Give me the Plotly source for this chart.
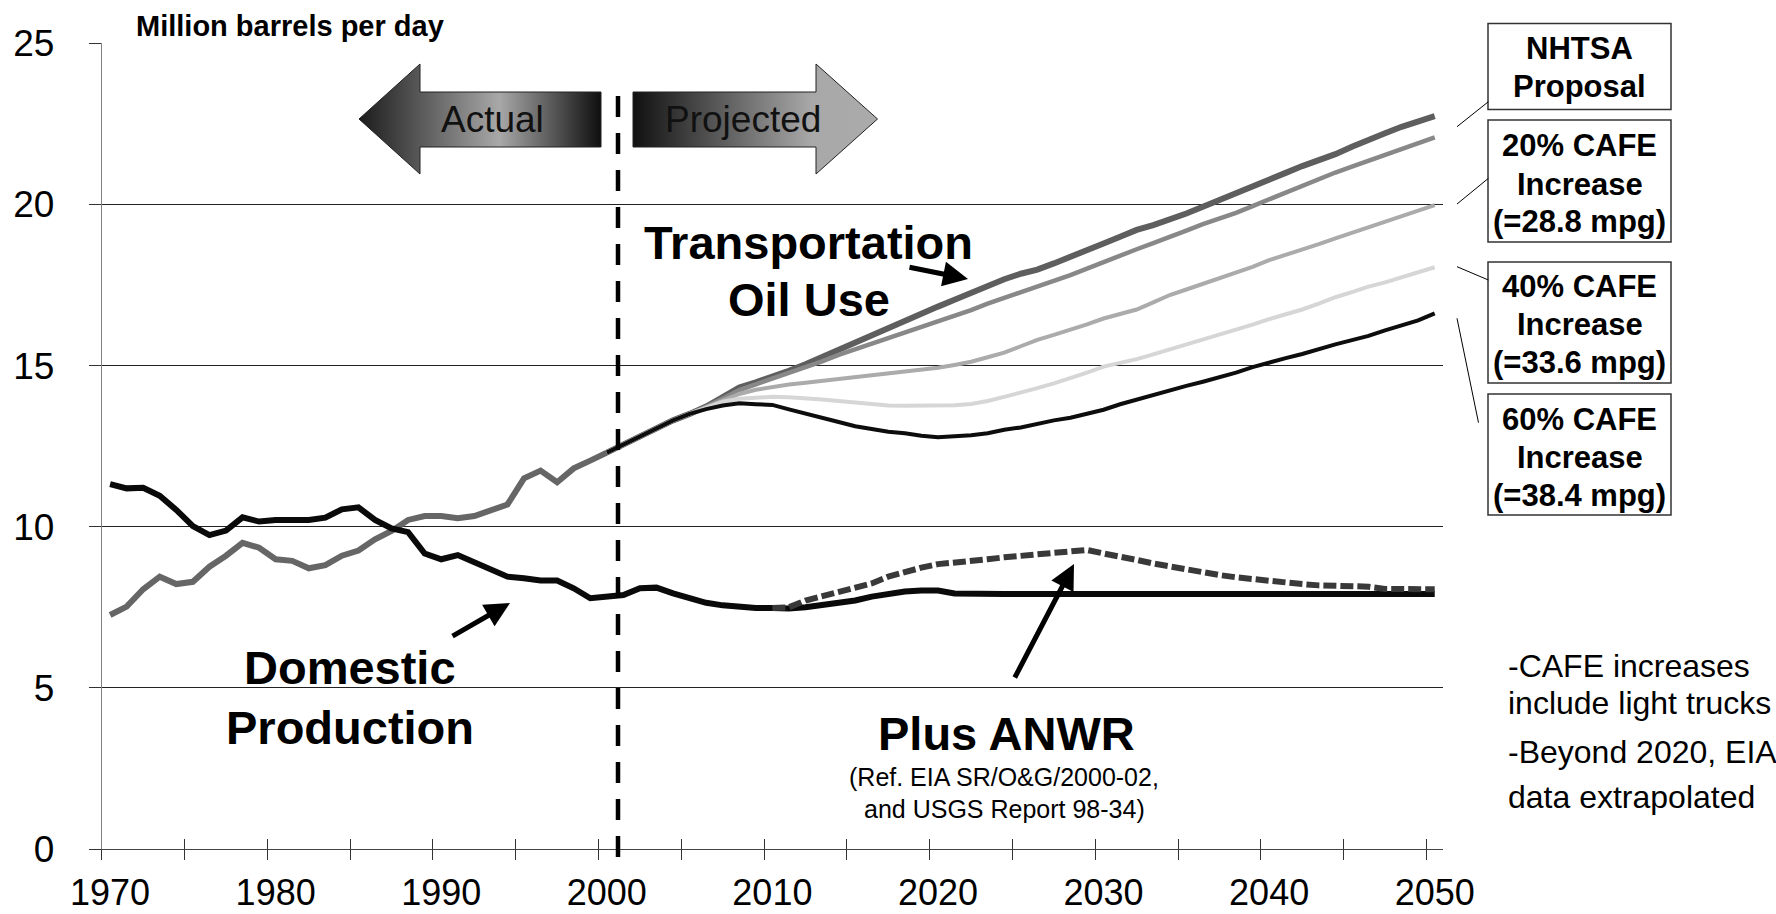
import plotly.graph_objects as go

# ---------------- data ----------------
years_hist = list(range(1970, 2001))
transport_hist = [7.26, 7.52, 8.06, 8.45, 8.22, 8.29, 8.76, 9.10, 9.50, 9.35,
                  8.99, 8.94, 8.71, 8.81, 9.10, 9.26, 9.61, 9.87, 10.21, 10.33,
                  10.33, 10.26, 10.33, 10.49, 10.69, 11.50, 11.74, 11.38, 11.81, 12.05,
                  12.30]

years_all = list(range(1970, 2051))
domestic_production = [11.32, 11.19, 11.21, 10.96, 10.52, 10.02, 9.74, 9.88, 10.29, 10.16,
                       10.21, 10.21, 10.21, 10.28, 10.54, 10.60, 10.21, 9.95, 9.83, 9.17,
                       8.99, 9.12, 8.90, 8.64, 8.45, 8.40, 8.33, 8.33, 8.09, 7.78,
                       7.83, 7.88, 8.09, 8.11, 7.93, 7.77, 7.64, 7.56, 7.50, 7.48,
                       7.48, 7.46, 7.50, 7.57, 7.64, 7.71, 7.83, 7.91, 7.99, 8.02,
                       8.02, 7.93, 7.91, 7.91, 7.91, 7.91, 7.91, 7.91, 7.91, 7.91,
                       7.91, 7.91, 7.91, 7.91, 7.91, 7.91, 7.91, 7.91, 7.91, 7.91,
                       7.91, 7.91, 7.91, 7.91, 7.91, 7.91, 7.91, 7.91, 7.91, 7.91,
                       7.91]

years_proj = list(range(2000, 2051))
transport_base = [12.30, 12.55, 12.82, 13.05, 13.30, 13.50, 13.73, 14.02, 14.32, 14.48,
                  14.64, 14.84, 15.04, 15.27, 15.50, 15.73, 15.95, 16.18, 16.41, 16.62,
                  16.83, 17.04, 17.26, 17.47, 17.68, 17.85, 17.98, 18.17, 18.36, 18.58,
                  18.79, 19.00, 19.21, 19.36, 19.52, 19.72, 19.93, 20.15, 20.36, 20.57,
                  20.78, 20.98, 21.19, 21.37, 21.56, 21.79, 22.02, 22.21, 22.41, 22.57,
                  22.74]
nhtsa_proposal = [12.30, 12.55, 12.82, 13.05, 13.30, 13.50, 13.72, 13.98, 14.24, 14.42,
                  14.60, 14.76, 14.93, 15.13, 15.33, 15.50, 15.67, 15.85, 16.03, 16.20,
                  16.36, 16.54, 16.72, 16.92, 17.10, 17.27, 17.43, 17.62, 17.81, 18.01,
                  18.22, 18.42, 18.61, 18.80, 18.98, 19.19, 19.39, 19.56, 19.74, 19.95,
                  20.16, 20.35, 20.55, 20.77, 20.99, 21.17, 21.35, 21.53, 21.71, 21.90,
                  22.08]
cafe_20 = [12.30, 12.55, 12.82, 13.05, 13.30, 13.50, 13.70, 13.93, 14.12, 14.25,
           14.34, 14.41, 14.47, 14.53, 14.58, 14.65, 14.71, 14.76, 14.81, 14.86,
           14.93, 15.02, 15.12, 15.26, 15.40, 15.60, 15.80, 15.95, 16.10, 16.28,
           16.46, 16.60, 16.74, 16.96, 17.19, 17.36, 17.53, 17.70, 17.86, 18.06,
           18.27, 18.43, 18.59, 18.77, 18.95, 19.12, 19.29, 19.46, 19.62, 19.80,
           19.98]
cafe_40 = [12.30, 12.55, 12.82, 13.05, 13.30, 13.50, 13.68, 13.88, 13.97, 14.01,
           14.03, 14.02, 14.00, 13.95, 13.90, 13.86, 13.79, 13.76, 13.75, 13.75,
           13.75, 13.77, 13.81, 13.90, 14.03, 14.15, 14.30, 14.45, 14.60, 14.78,
           14.97, 15.08, 15.20, 15.35, 15.50, 15.64, 15.81, 15.96, 16.12, 16.27,
           16.44, 16.58, 16.74, 16.92, 17.12, 17.28, 17.45, 17.58, 17.74, 17.88,
           18.05]
cafe_60 = [12.30, 12.55, 12.82, 13.05, 13.30, 13.50, 13.65, 13.76, 13.83, 13.80,
           13.78, 13.64, 13.50, 13.37, 13.25, 13.12, 13.02, 12.95, 12.90, 12.82,
           12.78, 12.80, 12.84, 12.90, 13.01, 13.08, 13.20, 13.30, 13.38, 13.49,
           13.63, 13.80, 13.95, 14.10, 14.24, 14.37, 14.50, 14.63, 14.78, 14.95,
           15.10, 15.23, 15.36, 15.52, 15.66, 15.79, 15.92, 16.09, 16.25, 16.40,
           16.62]

years_anwr = list(range(2010, 2051))
plus_anwr = [7.48, 7.50, 7.71, 7.85, 7.95, 8.09, 8.24, 8.45, 8.60, 8.73,
             8.84, 8.88, 8.91, 8.99, 9.05, 9.09, 9.15, 9.19, 9.23, 9.28,
             9.17, 9.05, 8.97, 8.86, 8.76, 8.68, 8.59, 8.50, 8.43, 8.37,
             8.32, 8.26, 8.22, 8.18, 8.16, 8.16, 8.14, 8.07, 8.06, 8.06,
             8.06]

x_tick_labels = [1970, 1980, 1990, 2000, 2010, 2020, 2030, 2040, 2050]
x_tick_marks = [1969.5 + 5 * k for k in range(17)]
y_ticks = [0, 5, 10, 15, 20, 25]

box_texts = [
    ["NHTSA", "Proposal"],
    ["20% CAFE", "Increase", "(=28.8 mpg)"],
    ["40% CAFE", "Increase", "(=33.6 mpg)"],
    ["60% CAFE", "Increase", "(=38.4 mpg)"],
]
notes = ["-CAFE increases", "include light trucks", "-Beyond 2020, EIA", "data extrapolated"]

# ---------------- figure ----------------
W, H = 1776, 914
FONT = "Liberation Sans, Arial, Helvetica, sans-serif"

fig = go.Figure()

def line(x, y, color, width, dash=None, name=""):
    fig.add_trace(go.Scatter(x=x, y=y, mode="lines", name=name,
                             line=dict(color=color, width=width, dash=dash),
                             hoverinfo="skip", showlegend=False))

line(years_hist, transport_hist, "#666666", 6, name="Transportation (actual)")
line(years_all, domestic_production, "#0a0a0a", 6, name="Domestic Production")
line(years_anwr, plus_anwr, "#393939", 6, dash="13px,4px", name="Plus ANWR")
line(years_proj, transport_base, "#5e5e5e", 6, name="Transportation Oil Use")
line(years_proj, nhtsa_proposal, "#888888", 4.5, name="NHTSA Proposal")
line(years_proj, cafe_20, "#ababab", 4, name="20% CAFE")
line(years_proj, cafe_40, "#d6d6d6", 4, name="40% CAFE")
line(years_proj, cafe_60, "#0d0d0d", 4, name="60% CAFE")

# dummy traces so the overlay tick axes are drawn
for ax in ("x2", "x3"):
    fig.add_trace(go.Scatter(x=[1970], y=[0], xaxis=ax, yaxis="y", mode="markers",
                             marker=dict(opacity=0), hoverinfo="skip", showlegend=False))

# decorative arrows in a pixel-coordinate overlay
actual_x = [359, 420, 420, 601, 601, 420, 420, 359]
actual_y = [119, 64, 92, 92, 147, 147, 174, 119]
proj_x = [633, 816, 816, 877.5, 816, 816, 633, 633]
proj_y = [92, 92, 64, 119, 174, 147, 147, 92]
fig.add_trace(go.Scatter(x=actual_x, y=actual_y, xaxis="x4", yaxis="y4", mode="lines",
                         fill="toself", line=dict(color="#222222", width=1),
                         fillgradient=dict(type="horizontal", start=359, stop=601,
                                           colorscale=[[0, "#1c1c1c"], [0.58, "#a8a8a8"], [1, "#0f0f0f"]]),
                         hoverinfo="skip", showlegend=False))
fig.add_trace(go.Scatter(x=proj_x, y=proj_y, xaxis="x4", yaxis="y4", mode="lines",
                         fill="toself", line=dict(color="#222222", width=1),
                         fillgradient=dict(type="horizontal", start=633, stop=877.5,
                                           colorscale=[[0, "#111111"], [0.73, "#a8a8a8"], [1, "#ababab"]]),
                         hoverinfo="skip", showlegend=False))

xd = [101.8 / W, 1443 / W]
yd = [1 - 849 / H, 1 - 43.3 / H]
tickfont = dict(family=FONT, size=37, color="#000")
xtickfont = dict(family=FONT, size=36, color="#000")

fig.update_layout(
    width=W, height=H, autosize=False,
    margin=dict(l=0, r=0, t=0, b=0, autoexpand=False),
    paper_bgcolor="white", plot_bgcolor="rgba(0,0,0,0)",
    font=dict(family=FONT, color="#000"),
    xaxis=dict(domain=xd, range=[1969.5, 2050.5], tickvals=x_tick_labels,
               ticktext=[str(v) for v in x_tick_labels], ticks="", tickfont=xtickfont,
               ticklabelstandoff=12, showgrid=False, zeroline=False, automargin=False,
               showline=True, linecolor="#444", linewidth=1, anchor="y"),
    xaxis2=dict(overlaying="x", range=[1969.5, 2050.5], tickvals=x_tick_marks, ticks="outside",
                ticklen=10, tickcolor="#333", tickwidth=1, showticklabels=False, automargin=False,
                showgrid=False, zeroline=False, showline=False, anchor="y"),
    xaxis3=dict(overlaying="x", range=[1969.5, 2050.5], tickvals=x_tick_marks, ticks="inside",
                ticklen=10, tickcolor="#333", tickwidth=1, showticklabels=False, automargin=False,
                showgrid=False, zeroline=False, showline=False, anchor="y"),
    yaxis=dict(domain=yd, range=[0, 25], tickvals=y_ticks, ticks="outside", ticklen=12,
               tickcolor="#333", tickfont=tickfont, ticklabelstandoff=27, automargin=False,
               showgrid=True, gridcolor="#222", gridwidth=1, zeroline=False,
               showline=True, linecolor="#808080", linewidth=1, anchor="x"),
    xaxis4=dict(domain=[0, 1], range=[0, W], visible=False, anchor="y4", fixedrange=True,
                automargin=False),
    yaxis4=dict(domain=[0, 1], range=[H, 0], visible=False, anchor="x4", fixedrange=True,
                automargin=False),
)

ann = []
def txt(x, y, s, size, bold=False, xanchor="center", color="#000"):
    ann.append(dict(x=x, y=y, xref="x4", yref="y4", text=(f"<b>{s}</b>" if bold else s),
                    showarrow=False, xanchor=xanchor, yanchor="middle",
                    font=dict(family=FONT, size=size, color=color)))

def arrow(x0, y0, x1, y1):
    ann.append(dict(x=x1, y=y1, ax=x0, ay=y0, xref="x4", yref="y4", axref="x4", ayref="y4",
                    text="", showarrow=True, arrowhead=2, arrowsize=1.0, arrowwidth=5,
                    arrowcolor="#000"))

txt(134, 26, "Million barrels per day", 29, bold=True, xanchor="left")
txt(492.5, 119.5, "Actual", 37, color="#111")
txt(743, 119.5, "Projected", 37, color="#111")
txt(808, 242.5, "Transportation", 47, bold=True)
txt(809, 299, "Oil Use", 47, bold=True)
txt(350, 667, "Domestic", 47, bold=True)
txt(350, 727, "Production", 47, bold=True)
txt(1006, 733, "Plus ANWR", 47, bold=True)
txt(1004, 777, "(Ref. EIA SR/O&amp;G/2000-02,", 25)
txt(1004, 809, "and USGS Report 98-34)", 25)
for s, yy in zip(notes, [666, 703, 752, 797]):
    txt(1506, yy, s, 32, xanchor="left")

arrow(908, 267, 968, 279)
arrow(451, 637, 510, 603)
arrow(1014, 679, 1074, 564)

box_y = [(23.5, 109.5), (120, 242), (262, 383), (394, 515)]
line_y = [[48.3, 86], [145, 184.2, 221.7], [286.3, 324, 362.5], [419, 457.5, 495]]
shapes = []
for (y0, y1), lines_, ys in zip(box_y, box_texts, line_y):
    shapes.append(dict(type="rect", xref="x4", yref="y4", x0=1488, x1=1671, y0=y0, y1=y1,
                       line=dict(color="#333", width=1.5), fillcolor="white", layer="below"))
    for s, yy in zip(lines_, ys):
        txt(1579.5, yy, s, 31, bold=True)

connectors = [((1457, 126.7), (1488.4, 101.7)), ((1457, 204), (1488.4, 178.3)),
              ((1457, 266.7), (1488.4, 280)), ((1457, 318.3), (1478.5, 422.7))]
for (a, b) in connectors:
    shapes.append(dict(type="line", xref="x4", yref="y4", x0=a[0], y0=a[1], x1=b[0], y1=b[1],
                       line=dict(color="#000", width=1)))

shapes.append(dict(type="line", xref="x4", yref="y4", x0=618, x1=618, y0=96, y1=859,
                   line=dict(color="#000", width=4.5, dash="21px,16px")))

fig.update_layout(annotations=ann, shapes=shapes)
fig.write_html("out.html", config={"displayModeBar": False},
               post_script="document.body.style.margin='0px';document.body.style.overflow='hidden';")
